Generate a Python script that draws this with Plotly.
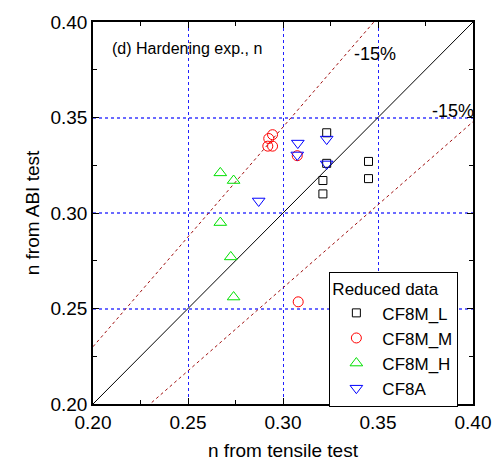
import plotly.graph_objects as go

# Data
L_x = [0.323, 0.345, 0.345, 0.321, 0.321, 0.323]
L_y = [0.342, 0.327, 0.318, 0.317, 0.310, 0.326]

M_x = [0.2925, 0.2945, 0.2920, 0.2945, 0.3075, 0.3080]
M_y = [0.3390, 0.3410, 0.3350, 0.3350, 0.3300, 0.2535]

H_x = [0.267, 0.274, 0.267, 0.2725, 0.274]
H_y = [0.321, 0.317, 0.295, 0.277, 0.256]

A_x = [0.3078, 0.323, 0.3075, 0.323, 0.2872]
A_y = [0.3366, 0.3387, 0.3304, 0.3257, 0.3063]

diag_x = [0.20, 0.40]
diag_y = [0.20, 0.40]
upper_x = [0.20, 0.40]
upper_y = [0.23, 0.46]
lower_x = [0.20, 0.40]
lower_y = [0.1739, 0.3478]

FONT = "Liberation Sans, Arial, sans-serif"

fig = go.Figure()
fig.add_trace(go.Scatter(x=diag_x, y=diag_y, mode="lines", line=dict(color="black", width=1),
                         showlegend=False, hoverinfo="skip"))
fig.add_trace(go.Scatter(x=upper_x, y=upper_y, mode="lines", line=dict(color="#a01010", width=1, dash="dot"),
                         showlegend=False, hoverinfo="skip"))
fig.add_trace(go.Scatter(x=lower_x, y=lower_y, mode="lines", line=dict(color="#a01010", width=1, dash="dot"),
                         showlegend=False, hoverinfo="skip"))

fig.add_trace(go.Scatter(x=L_x, y=L_y, mode="markers", name="CF8M_L",
                         marker=dict(symbol="square-open", size=8, color="black", line=dict(width=1))))
fig.add_trace(go.Scatter(x=M_x, y=M_y, mode="markers", name="CF8M_M",
                         marker=dict(symbol="circle-open", size=10, color="red", line=dict(width=1))))
fig.add_trace(go.Scatter(x=H_x, y=H_y, mode="markers", name="CF8M_H",
                         marker=dict(symbol="triangle-up-open", size=11, color="#00e000", line=dict(width=1))))
fig.add_trace(go.Scatter(x=A_x, y=A_y, mode="markers", name="CF8A",
                         marker=dict(symbol="triangle-down-open", size=11, color="blue", line=dict(width=1))))

axis_common = dict(
    range=[0.2, 0.4], dtick=0.05, tick0=0.2, tickformat=".2f",
    showline=True, linecolor="black", linewidth=1.5, mirror="ticks",
    ticks="inside", ticklen=6, tickcolor="black",
    minor=dict(dtick=0.025, ticks="inside", ticklen=4, tickcolor="black", showgrid=False),
    showgrid=True, griddash="dot",
    zeroline=False, tickfont=dict(family=FONT, size=19, color="black"),
)

fig.update_xaxes(**axis_common, gridcolor="#2020ff", gridwidth=1,
                 title=dict(text="n from tensile test", font=dict(family=FONT, size=19, color="black"), standoff=12))
fig.update_yaxes(**axis_common, gridcolor="#6a6aff", gridwidth=1.6,
                 title=dict(text="n from ABI test", font=dict(family=FONT, size=19, color="black"), standoff=6))

fig.add_annotation(x=0.045, y=0.93, xref="paper", yref="paper", text="(d) Hardening exp., n",
                   showarrow=False, xanchor="left", yanchor="middle", font=dict(family=FONT, size=16, color="black"))
fig.add_annotation(x=0.3362, y=0.3830, xref="x", yref="y", text="-15%",
                   showarrow=False, xanchor="left", yanchor="middle", font=dict(family=FONT, size=18, color="black"))
fig.add_annotation(x=0.3775, y=0.3535, xref="x", yref="y", text="-15%",
                   showarrow=False, xanchor="left", yanchor="middle", font=dict(family=FONT, size=18, color="black"))

fig.update_layout(
    width=503, height=470,
    margin=dict(l=93, r=26, t=18, b=66),
    plot_bgcolor="white", paper_bgcolor="white",
    font=dict(family=FONT, color="black"),
    legend=dict(
        title=dict(text="Reduced data", font=dict(family=FONT, size=17, color="black")),
        font=dict(family=FONT, size=17, color="black"),
        x=0.622, y=0.345, xanchor="left", yanchor="top",
        bgcolor="white", bordercolor="black", borderwidth=1,
        itemwidth=42, tracegroupgap=0,
    ),
)

fig.write_html("out.html")
